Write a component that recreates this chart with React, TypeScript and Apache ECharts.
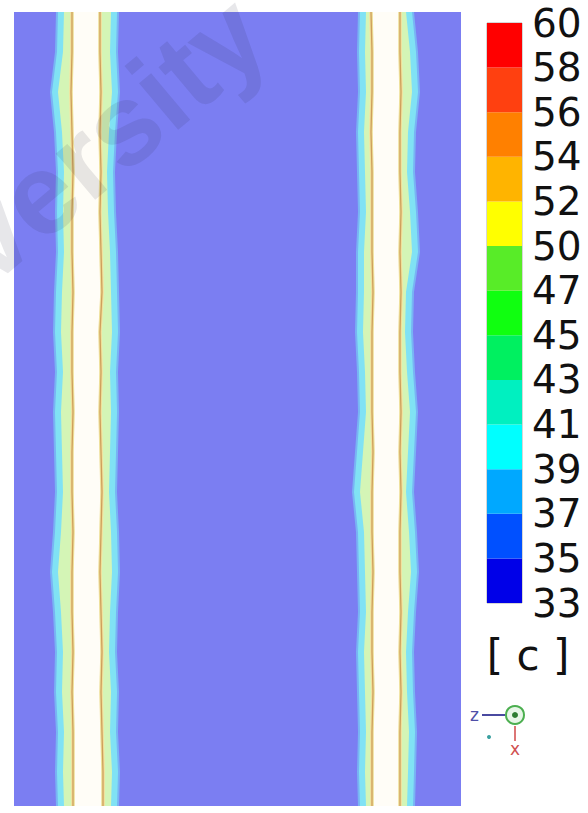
import { useEffect, useRef } from "react";
import * as echarts from "echarts";

// Vertical sampling levels of the domain (distance from top)
const Y_LEVELS = [0, 40, 80, 120, 160, 200, 240, 280, 320, 360, 400, 440, 480, 520, 560, 600, 640, 680, 720, 760, 794];

// Left jet band edges (x position in domain units)
const LEFT_OUTER_L = [44, 43, 38, 42, 44, 43, 44, 42, 41, 43, 41, 42, 43, 41, 38, 41, 43, 42, 44, 43, 44];
const LEFT_LINE_L = [58, 58, 57, 58, 59, 58, 58, 59, 58, 58, 59, 58, 58, 59, 58, 58, 59, 58, 59, 59, 59];
const LEFT_LINE_R = [86, 86, 87, 86, 87, 86, 87, 88, 86, 87, 86, 87, 88, 87, 86, 87, 88, 87, 88, 89, 89];
const LEFT_OUTER_R = [103, 102, 104, 101, 99, 100, 102, 103, 104, 102, 103, 102, 101, 103, 104, 102, 101, 103, 102, 104, 103];

// Right jet band edges
const RIGHT_OUTER_L = [346, 345, 346, 344, 345, 346, 344, 344, 343, 345, 346, 343, 340, 344, 345, 346, 344, 345, 346, 345, 346];
const RIGHT_LINE_L = [357, 358, 358, 357, 358, 358, 358, 359, 358, 358, 358, 359, 358, 358, 359, 358, 358, 359, 358, 358, 358];
const RIGHT_LINE_R = [386, 386, 387, 386, 386, 387, 386, 387, 386, 386, 387, 386, 387, 386, 386, 387, 386, 387, 386, 386, 386];
const RIGHT_OUTER_R = [398, 402, 404, 400, 399, 402, 404, 398, 397, 399, 402, 400, 398, 401, 403, 400, 398, 399, 401, 400, 399];

// Colour bar
const LEVEL_LABELS = ["33", "35", "37", "39", "41", "43", "45", "47", "50", "52", "54", "56", "58", "60"];
const LEVEL_COLORS = [
  "#0000e8", "#0050ff", "#00a8ff", "#00ffff", "#00f0c0", "#00f060", "#10ff10",
  "#58ec28", "#ffff00", "#ffb400", "#ff8000", "#ff4010", "#ff0000",
];
const SEGMENT_SIZE = LEVEL_COLORS.map(() => 1);

const DOMAIN_W = 447;
const DOMAIN_H = 794;

function bandSeries(L: number[], R: number[], fill: string, inset = 0) {
  return {
    type: "custom",
    xAxisIndex: 0,
    yAxisIndex: 0,
    silent: true,
    clip: true,
    data: [[0]],
    renderItem: (_p: any, api: any) => {
      const pts: number[][] = [];
      for (let i = 0; i < Y_LEVELS.length; i++) pts.push(api.coord([L[i] + inset, Y_LEVELS[i]]));
      for (let i = Y_LEVELS.length - 1; i >= 0; i--) pts.push(api.coord([R[i] - inset, Y_LEVELS[i]]));
      return { type: "polygon", shape: { points: pts }, style: { fill } };
    },
  };
}

function edgeLine(X: number[], color: string, width: number, opacity = 1) {
  return {
    type: "line",
    xAxisIndex: 0,
    yAxisIndex: 0,
    silent: true,
    symbol: "none",
    data: Y_LEVELS.map((y, i) => [X[i], y]),
    lineStyle: { color, width, opacity },
  };
}

export default function App() {
  const ref = useRef<HTMLDivElement>(null);
  useEffect(() => {
    if (!ref.current) return;
    const chart = echarts.init(ref.current, undefined, { renderer: "svg" });
    const bands: any[] = [];
    const layers = [
      [LEFT_OUTER_L, LEFT_LINE_L, LEFT_LINE_R, LEFT_OUTER_R],
      [RIGHT_OUTER_L, RIGHT_LINE_L, RIGHT_LINE_R, RIGHT_OUTER_R],
    ];
    for (const [oL, lL, lR, oR] of layers) {
      bands.push(bandSeries(oL, oR, "#78b4f4", -2));
      bands.push(bandSeries(oL, oR, "#80e2f4"));
      bands.push(bandSeries(oL, oR, "#d4f5b6", 6));
      bands.push(bandSeries(lL, lR, "#f3eeb8", -2));
      bands.push(bandSeries(lL, lR, "#fffdf7", 1.5));
      bands.push(edgeLine(lL, "#ecdc90", 3.5, 0.8));
      bands.push(edgeLine(lR, "#ecdc90", 3.5, 0.8));
      bands.push(edgeLine(lL, "#cf9f5c", 1.3));
      bands.push(edgeLine(lR, "#cf9f5c", 1.3));
    }
    chart.setOption({
      animation: false,
      backgroundColor: "#ffffff",
      grid: [
        { left: 14, top: 12, width: DOMAIN_W, height: DOMAIN_H, show: true, backgroundColor: "#7b7ef2", borderWidth: 0 },
        { left: 487, top: 23, width: 35, height: 580, show: true, borderColor: "#777", borderWidth: 0.6 },
      ],
      xAxis: [
        { type: "value", gridIndex: 0, min: 0, max: DOMAIN_W, show: false },
        { type: "category", gridIndex: 1, data: [""], show: false },
      ],
      yAxis: [
        { type: "value", gridIndex: 0, min: 0, max: DOMAIN_H, inverse: true, show: false },
        {
          type: "value",
          gridIndex: 1,
          min: 0,
          max: LEVEL_COLORS.length,
          interval: 1,
          position: "right",
          axisLine: { show: false },
          axisTick: { show: false },
          splitLine: { show: false },
          axisLabel: {
            formatter: (v: number) => LEVEL_LABELS[v] ?? "",
            fontSize: 39,
            fontFamily: "DejaVu Sans",
            color: "#111",
            margin: 10,
            showMinLabel: true,
            showMaxLabel: true,
          },
        },
      ],
      series: [
        ...bands,
        ...LEVEL_COLORS.map((c, i) => ({
          type: "bar",
          xAxisIndex: 1,
          yAxisIndex: 1,
          stack: "cb",
          silent: true,
          barWidth: "100%",
          data: [SEGMENT_SIZE[i]],
          itemStyle: { color: c },
        })),
      ],
      graphic: [
        {
          type: "text",
          x: 286,
          y: 62,
          rotation: 0.7,
          silent: true,
          z: 100,
          style: {
            text: "University",
            fontSize: 115,
            fontWeight: "bold",
            fontFamily: "Liberation Sans",
            fill: "rgba(40,40,60,0.11)",
            textAlign: "right",
            textVerticalAlign: "bottom",
          },
        },
        {
          type: "text",
          x: 528,
          y: 655,
          style: { text: "[ c ]", fontSize: 42, fontFamily: "DejaVu Sans", fill: "#111", textAlign: "center", textVerticalAlign: "middle" },
        },
        { type: "text", x: 470, y: 715, style: { text: "z", fontSize: 17, fontFamily: "DejaVu Sans", fill: "#4f4fa8", textVerticalAlign: "middle" } },
        { type: "line", shape: { x1: 482, y1: 715, x2: 505, y2: 715 }, style: { stroke: "#4a4aa0", lineWidth: 2 } },
        { type: "circle", shape: { cx: 515, cy: 715, r: 9 }, style: { fill: "#e8f6e8", stroke: "#4caf50", lineWidth: 2 } },
        { type: "circle", shape: { cx: 515, cy: 715, r: 3 }, style: { fill: "#2e7d32" } },
        { type: "line", shape: { x1: 515, y1: 726, x2: 515, y2: 741 }, style: { stroke: "#d04848", lineWidth: 1.5 } },
        { type: "text", x: 515, y: 749, style: { text: "x", fontSize: 17, fontFamily: "DejaVu Sans", fill: "#d05050", textAlign: "center", textVerticalAlign: "middle" } },
        { type: "circle", shape: { cx: 489, cy: 737, r: 2 }, style: { fill: "#3aa0a0" } },
      ],
    });
    return () => chart.dispose();
  }, []);
  return (
    <div
      ref={ref}
      style={{ position: "fixed", left: 0, top: 0, width: 588, height: 813, background: "#fff" }}
    />
  );
}
